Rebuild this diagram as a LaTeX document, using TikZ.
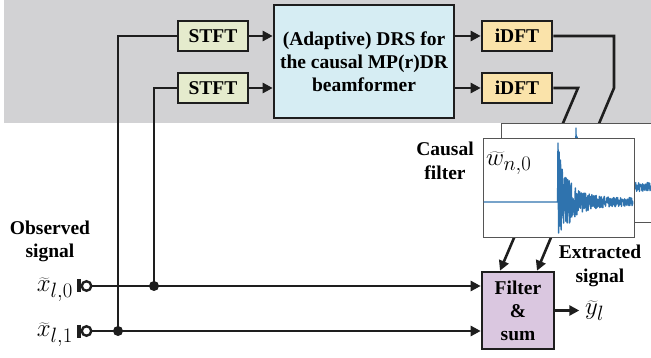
\documentclass[tikz,border=0pt]{standalone}
\usepackage{fontspec}
\setmainfont{Liberation Serif}
\usetikzlibrary{arrows.meta,calc}
\definecolor{bgc}{HTML}{D2D2D4}
\definecolor{stftc}{HTML}{E5EBCD}
\definecolor{drsc}{HTML}{D6EDF3}
\definecolor{idftc}{HTML}{FAE3AA}
\definecolor{filtc}{HTML}{DAC7E0}
\definecolor{sigc}{HTML}{2F73AE}
\definecolor{boxc}{HTML}{1E1E1E}
\definecolor{plotc}{HTML}{555555}
\begin{document}
\begin{tikzpicture}[x=1pt,y=-1pt,
  box/.style={draw=boxc, line width=2.6pt, inner sep=0pt, align=center,
    font=\fontsize{19.5}{23}\selectfont\bfseries},
  lab/.style={inner sep=0pt, align=center, font=\fontsize{19.5}{23.5}\selectfont\bfseries},
  mlab/.style={inner sep=0pt, font=\fontsize{24.88}{25}\selectfont},
  wire/.style={line width=2.6pt, draw=boxc},
  arr/.style={wire, -{Triangle[length=10pt,width=10pt]}},
  term/.style={circle, draw=boxc, line width=2.4pt, fill=white, minimum size=9.5pt, inner sep=0pt},
  ]
\clip (0,0) rectangle (651,358);
\fill[bgc] (4,0) rectangle (651,123);

% blocks
\node[box, fill=stftc, minimum width=70pt, minimum height=30pt] (s1) at (213,36) {STFT};
\node[box, fill=stftc, minimum width=70pt, minimum height=30pt] (s2) at (213,88) {STFT};
\node[box, fill=drsc, minimum width=180pt, minimum height=113pt] (drs) at (364,61.5)
  {(Adaptive) DRS for\\the causal MP(r)DR\\beamformer};
\node[box, fill=idftc, minimum width=70pt, minimum height=30pt] (i1) at (517,36) {iDFT};
\node[box, fill=idftc, minimum width=70pt, minimum height=30pt] (i2) at (517,88) {iDFT};
\node[box, fill=filtc, minimum width=72pt, minimum height=77pt] (f) at (518,310.5) {Filter\\\&\\sum};

% arrows between blocks
\draw[arr] (s1.east) -- (s1.east -| drs.west);
\draw[arr] (s2.east) -- (s2.east -| drs.west);
\draw[arr] (i1.west -| drs.east) -- (i1.west);
\draw[arr] (i2.west -| drs.east) -- (i2.west);

% iDFT to filter (behind plots)
\draw[arr] (i2.east) -- (578,88) -- ($(f.north)+(-18,0)$);
\draw[arr] (i1.east) -- (614,36) -- (614,88) -- ($(f.north)+(19,0)$);

% plots
\foreach \ox/\oy in {18/-15, 0/0} {
\begin{scope}[shift={(\ox,\oy)}]
  \filldraw[fill=white, draw=plotc, line width=1pt] (483,139) rectangle (634,238);
  \begin{scope}
    \clip (483.5,139.5) rectangle (633.5,237.5);
    \pgfmathsetseed{7}
    \draw[sigc, line width=1.4pt, line join=round] (483,202) -- (557.6,202) -- (558,143)
      -- (558.6,233) -- (559.2,152) -- (559.8,226) -- (560.5,160) -- (561.2,230)
      -- plot[samples=300, domain=3.5:75] ({558+\x}, {202 - (4.5 + 40*exp(-\x/13))*rand});
  \end{scope}
\end{scope}
}
\node[mlab, anchor=base west] (wl) at (486,166) {$\widetilde{w}_{n,0}$};

% input wiring
\node[term] (t0) at (86.5,286) {};
\node[term] (t1) at (86.5,331) {};
\draw[line width=3.5pt, boxc] (79,279.5) -- (79,292.5);
\draw[line width=3.5pt, boxc] (79,324.5) -- (79,337.5);
\draw[arr] (t0.east) -- (t0.east -| f.west);
\draw[arr] (t1.east) -- (t1.east -| f.west);
\draw[wire] (s1.west) -- (118,36) -- (118,331);
\draw[wire] (s2.west) -- (154,88) -- (154,286);
\fill[boxc] (154,286) circle (5);
\fill[boxc] (118,331) circle (5);

% output
\draw[arr] (f.east) -- ++(24,0) coordinate (yo);

% labels
\node[lab] (obs) at (50,241.5) {Observed\\signal};
\node[lab] (caus) at (445,161) {Causal\\filter};
\node[lab] (ext) at (600,266) {Extracted\\signal};
\node[mlab, anchor=base east] (x0) at (73,292) {$\widetilde{x}_{l,0}$};
\node[mlab, anchor=base east] (x1) at (73,337) {$\widetilde{x}_{l,1}$};
\node[mlab, anchor=base west] (yl) at (585,315) {$\widetilde{y}_{l}$};
\end{tikzpicture}
\end{document}
